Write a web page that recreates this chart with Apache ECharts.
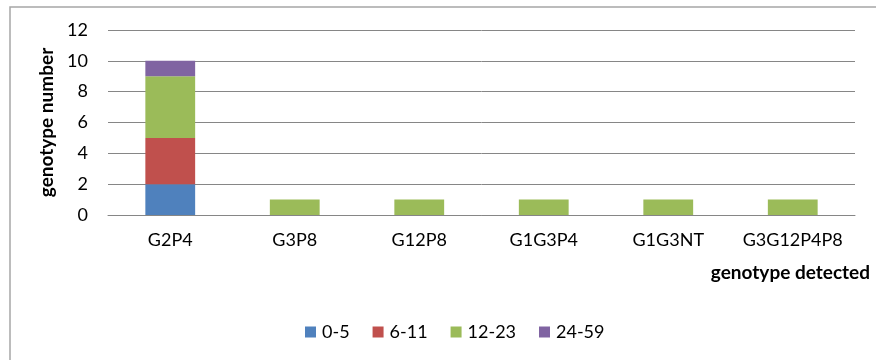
<!DOCTYPE html>
<html><head><meta charset="utf-8">
<script src="https://cdn.jsdelivr.net/npm/echarts@6/dist/echarts.min.js"></script>
<style>html,body{margin:0;padding:0;background:#fff}#c{width:876px;height:360px}</style>
</head><body><div id="c"></div>
<script>
const categories = ['G2P4','G3P8','G12P8','G1G3P4','G1G3NT','G3G12P4P8'];
const age0_5 = [2,0,0,0,0,0];
const age6_11 = [3,0,0,0,0,0];
const age12_23 = [4,1,1,1,1,1];
const age24_59 = [1,0,0,0,0,0];
const seriesNames = ['0-5','6-11','12-23','24-59'];
const colors = ['#4F81BD','#C0504D','#9BBB59','#8064A2'];
const FONT = 'Lato, "Open Sans", sans-serif';
const chart = echarts.init(document.getElementById('c'));
const vals = [age0_5, age6_11, age12_23, age24_59];
chart.setOption({
  animation:false,
  textStyle:{fontFamily:FONT},
  graphic:[{type:'rect',shape:{x:10,y:7,width:900,height:400},style:{fill:'none',stroke:'#A6A6A6',lineWidth:1.5},silent:true},
    {type:'text',right:6,top:263,style:{text:'genotype detected',font:'bold 19px '+FONT,fill:'#000'}}],
  grid:{left:108,right:21,top:30,bottom:145},
  legend:{data:seriesNames,left:300,top:318,itemWidth:11,itemHeight:11,itemGap:23,icon:'rect',
    textStyle:{fontSize:18,color:'#000',fontFamily:FONT,padding:[0,0,0,1]}},
  xAxis:{type:'category',data:categories,axisTick:{show:false},
    axisLine:{lineStyle:{color:'#868686'}},
    axisLabel:{color:'#000',fontSize:18,margin:16,fontFamily:FONT,interval:0}},
  yAxis:{type:'value',min:0,max:12,interval:2,name:'genotype number',nameLocation:'middle',nameGap:50,nameRotate:90,
    nameTextStyle:{fontWeight:'bold',fontSize:19,color:'#000',fontFamily:FONT},
    axisLine:{show:false},axisTick:{show:false},
    axisLabel:{color:'#000',fontSize:18,margin:20,fontFamily:FONT},
    splitLine:{lineStyle:{color:'#868686'}}},
  series: seriesNames.map((n,i)=>({name:n,type:'bar',stack:'a',data:vals[i],barWidth:'40%',itemStyle:{color:colors[i]}}))
});
</script></body></html>
